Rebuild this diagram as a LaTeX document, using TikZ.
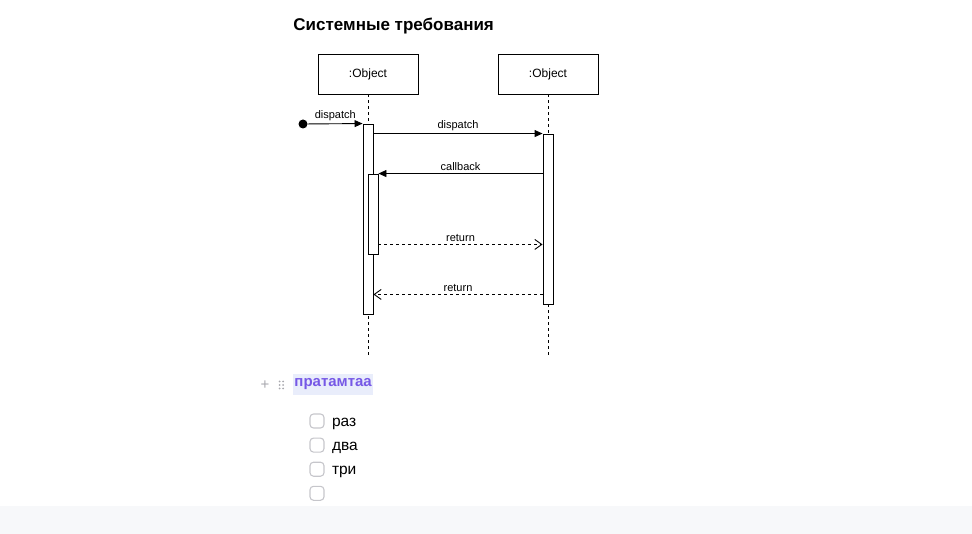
\documentclass[tikz,border=0pt]{standalone}
\usepackage{fontspec}
\setmainfont{Liberation Sans}
\usetikzlibrary{arrows.meta,positioning}
\definecolor{uiviolet}{HTML}{7658E6}
\definecolor{uihilite}{HTML}{E9EDFB}
\definecolor{uigrey}{HTML}{A8A8AE}
\definecolor{uiline}{HTML}{C6C6CB}
\definecolor{uiband}{HTML}{F7F8FA}
\begin{document}
\begin{tikzpicture}[
    x=1pt,y=-1pt,
    line width=0.9pt,
    object/.style={draw,minimum width=100pt,minimum height=40pt,inner sep=0pt,
      font=\fontsize{12}{14}\selectfont},
    lifeline/.style={dash pattern=on 3pt off 3pt},
    activation/.style={draw,fill=white,minimum width=10pt,inner sep=0pt},
    call/.style={-{Triangle[length=8pt,width=7pt]}},
    reply/.style={dash pattern=on 3pt off 3pt,-{Straight Barb[length=7pt,width=10pt]}},
    msg/.style={font=\fontsize{11}{13}\selectfont,inner sep=2pt,above},
    checkbox/.style={draw=uiline,line width=1.1pt,rounded corners=3.5pt,minimum size=14pt,inner sep=0pt},
    item/.style={anchor=base west,inner sep=0pt,font=\fontsize{15.5}{18}\selectfont},
  ]
  \useasboundingbox (0,0) rectangle (972,534);
  \fill[uiband] (0,506) rectangle (972,534);
  % title
  \node[anchor=base west,inner sep=0pt,font=\fontsize{17}{20}\selectfont\bfseries]
    (title) at (293,31) {Системные требования};
  % objects and lifelines
  \node[object] (obj1) at (368,74) {:Object};
  \node[object] (obj2) at (548,74) {:Object};
  \coordinate (end1) at (368,355);
  \coordinate (end2) at (548,355);
  \draw[lifeline] (obj1.south) -- (end1);
  \draw[lifeline] (obj2.south) -- (end2);
  % activations
  \node[activation,minimum height=190pt] (act1) at (368,219) {};
  \node[activation,minimum height=170pt] (act2) at (548,219) {};
  \node[activation,minimum height=80pt] (act3) at (373,214) {};
  % messages
  \node[circle,fill,inner sep=0pt,minimum size=9pt] (start) at (303,124) {};
  \draw[call] (start) -- node[msg,pos=.5,yshift=1pt] {dispatch} (act1.north west);
  \draw[call] (act1.east |- act2.north) -- node[msg] {dispatch} (act2.north west);
  \draw[call] (act2.west |- act3.north) -- node[msg] {callback} (act3.north east);
  \draw[reply] ([yshift=10pt]act3.south east) -- node[msg] {return}
    ([yshift=10pt]act3.south east -| act2.west);
  \draw[reply] ([yshift=10pt]act2.south west) -- node[msg] {return}
    ([yshift=10pt]act2.south west -| act1.east);
  % block below
  \node[font=\fontsize{15}{16}\selectfont,text=uigrey] (plus) at (265,385) {+};
  \foreach \i in {-3.5,0,3.5}{
    \fill[uigrey] (279.5,385+\i) circle (1pt);
    \fill[uigrey] (283,385+\i) circle (1pt);
  }
  \node[fill=uihilite,text=uiviolet,anchor=west,inner xsep=1pt,inner ysep=0pt,
    minimum height=21pt,font=\fontsize{15}{18}\selectfont\bfseries]
    (head) at (293,384.5) {пратамтаа};
  \node[checkbox] (box1) at (317,421) {};
  \node[checkbox,below=9pt of box1] (box2) {};
  \node[checkbox,below=9pt of box2] (box3) {};
  \node[checkbox,below=9pt of box3] (box4) {};
  \node[item] (one) at ([xshift=7pt,yshift=-5.5pt]box1.east) {раз};
  \node[item] (two) at ([xshift=7pt,yshift=-5.5pt]box2.east) {два};
  \node[item] (three) at ([xshift=7pt,yshift=-5.5pt]box3.east) {три};
\end{tikzpicture}
\end{document}
